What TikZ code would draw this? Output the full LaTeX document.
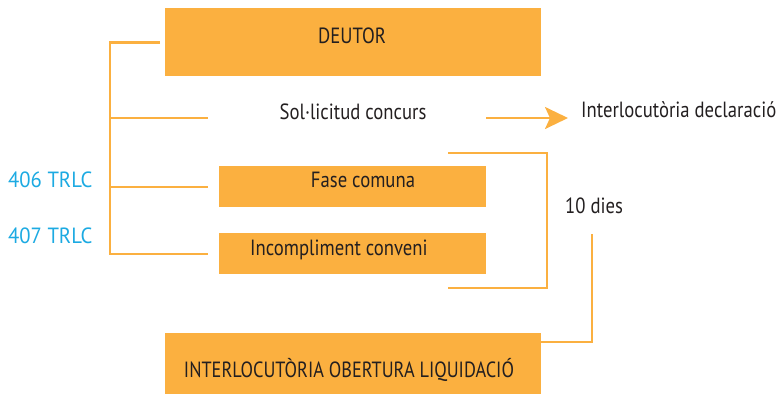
\documentclass[tikz,border=0pt]{standalone}
\usepackage{fontspec}
\setmainfont{PT Sans}[FakeStretch=0.85]
\newfontfamily\reffont{PT Sans}[FakeStretch=0.94]
\newfontfamily\majfont{PT Sans}[FakeStretch=0.83]
\usetikzlibrary{arrows.meta}

\definecolor{taronja}{RGB}{251,176,64}
\definecolor{blau}{RGB}{28,170,226}
\definecolor{tinta}{RGB}{35,31,32}

\tikzset{
  caixa/.style={fill=taronja, draw=none, inner sep=0pt, anchor=north west},
  txt/.style={text=tinta, font=\fontsize{22}{26}\selectfont, inner sep=0pt},
  refllei/.style={text=blau, font=\reffont\fontsize{22}{26}\selectfont, inner sep=0pt, anchor=base west},
  linia/.style={draw=taronja, line width=2.6pt},
}

\begin{document}
\begin{tikzpicture}[x=1pt,y=-1pt]
	\useasboundingbox (0,0) rectangle (781,394);
	% caixes
	\node[caixa, minimum width=376pt, minimum height=68pt] (deutor) at (165,8) {};
	\node[caixa, minimum width=267pt, minimum height=41pt] (fase) at (219,166) {};
	\node[caixa, minimum width=267pt, minimum height=41pt] (incomp) at (219,233) {};
	\node[caixa, minimum width=376pt, minimum height=61pt] (liq) at (165,333) {};
	%
	\node[txt, anchor=base] (tdeutor) at (352,43) {DEUTOR};
	\node[txt, anchor=base] (sol) at (353,119) {Sol·licitud concurs};
	\node[txt, anchor=base west] (decl) at (581,117) {Interlocutòria declaració};
	\node[txt, anchor=base] (tfase) at (363,187) {Fase comuna};
	\node[txt, anchor=base west] (tincomp) at (250,255) {Incompliment conveni};
	\node[txt, anchor=base west] (dies) at (565,213) {10 dies};
	\node[txt, font=\majfont\fontsize{22}{26}\selectfont, anchor=base] (tliq) at (349,377) {INTERLOCUTÒRIA OBERTURA LIQUIDACIÓ};
	\node[refllei] (a406) at (8,187) {406 TRLC};
	\node[refllei] (a407) at (8,243) {407 TRLC};
	%
	\coordinate (peu) at (110,254);
	\coordinate (b1) at (208,118);
	\coordinate (b2) at (208,187);
	\coordinate (b3) at (208,254);
	\coordinate (r1) at (448,153);
	\coordinate (r2) at (547,153);
	\coordinate (r3) at (448,288);
	\coordinate (f1) at (486,118);
	\coordinate (f2) at (568,118);
	\coordinate (d1) at (592,234);
	\coordinate (d2) at (liq.east |- 0,342);
	%
	\draw[linia] ([xshift=-5pt]deutor.west) -| (peu) -- (b3);
	\draw[linia] (peu |- b1) -- (b1);
	\draw[linia] (peu |- b2) -- (b2);
	\draw[linia] (r1) -- (r2) |- (r3);
	\draw[linia, -{Stealth[length=23pt, width=22pt, inset=5pt]}] (f1) -- (f2);
	\draw[linia] (d1) |- (d2);
\end{tikzpicture}
\end{document}
